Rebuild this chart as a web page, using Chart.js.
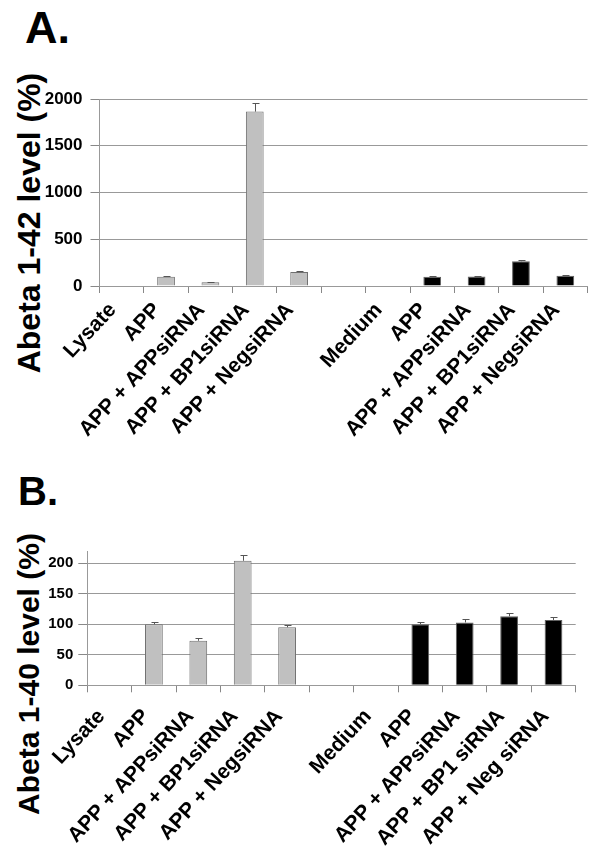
<!DOCTYPE html>
<html>
<head>
<meta charset="utf-8">
<script src="https://cdn.jsdelivr.net/npm/chart.js@4.4.1/dist/chart.umd.min.js"></script>
<style>
  body { margin: 0; background: #fff; }
  #page { position: relative; width: 600px; height: 850px; overflow: hidden; font-family: "Liberation Sans", Arial, sans-serif; }
  canvas { position: absolute; left: 0; }
  .panel { position: absolute; font-weight: bold; line-height: 1; color: #000; }
  .ytitle { position: absolute; width: 400px; text-align: center; font-weight: bold; line-height: 1; color: #000; transform: rotate(-90deg); white-space: nowrap; }
</style>
</head>
<body>
<div id="page">
  <div class="panel" style="left:25px; top:5px; font-size:45px;">A.</div>
  <div class="ytitle" style="left:-171px; top:207px; font-size:32px;">Abeta 1-42 level (%)</div>
  <canvas id="chartA" width="600" height="450" style="top:0"></canvas>

  <div class="panel" style="left:18px; top:471px; font-size:40px;">B.</div>
  <div class="ytitle" style="left:-171px; top:659px; font-size:30px;">Abeta 1-40 level (%)</div>
  <canvas id="chartB" width="600" height="400" style="top:450px"></canvas>
</div>
<script>
// panel A: Abeta 1-42
var categoriesA = ["Lysate", "APP", "APP + APPsiRNA", "APP + BP1siRNA", "APP + NegsiRNA", "",
                   "Medium", "APP", "APP + APPsiRNA", "APP + BP1siRNA", "APP + NegsiRNA"]
var valuesA = [null, 100, 40, 1865, 150, null, null, 100, 102, 265, 110]
var errorsA = [null, 5, 4, 90, 12, null, null, 4, 5, 10, 8]
var ticksA = [0, 500, 1000, 1500, 2000]

// panel B: Abeta 1-40
var categoriesB = ["Lysate", "APP", "APP + APPsiRNA", "APP + BP1siRNA", "APP + NegsiRNA", "",
                   "Medium", "APP", "APP + APPsiRNA", "APP + BP1 siRNA", "APP + Neg siRNA"]
var valuesB = [null, 100, 73, 204, 95, null, null, 100, 103, 113, 107]
var errorsB = [null, 4, 4, 9, 4, null, null, 4, 5, 5, 5]
var ticksB = [0, 50, 100, 150, 200]

Chart.defaults.font.family = "'Liberation Sans', Arial, sans-serif"
Chart.defaults.color = "#000"

var errorBars = {
  id: "errorBars",
  afterDatasetsDraw: function(chart, args, opts) {
    var ctx = chart.ctx
    var x = chart.scales.x
    var y = chart.scales.y
    var data = chart.data.datasets[0].data
    ctx.save()
    ctx.strokeStyle = "#555"
    ctx.lineWidth = 1
    data.forEach(function(v, i) {
      if (v == null || opts.errors[i] == null) return
      var px = Math.round(x.getPixelForValue(i)) + 0.5
      var top = y.getPixelForValue(v)
      var end = Math.round(y.getPixelForValue(v + opts.errors[i])) + 0.5
      ctx.beginPath()
      ctx.moveTo(px, top)
      ctx.lineTo(px, end)
      ctx.moveTo(px - 3, end)
      ctx.lineTo(px + 4, end)
      ctx.stroke()
    })
    ctx.restore()
  }
}

function barColour(i) { return i < 5 ? "#c0c0c0" : "#000000" }
function barBorder(i) { return i < 5 ? "#707070" : "#606060" }

function makeChart(id, labels, values, errors, tickValues, cfg) {
  return new Chart(document.getElementById(id), {
    type: "bar",
    data: {
      labels: labels,
      datasets: [{
        data: values,
        backgroundColor: labels.map(function(l, i) { return barColour(i) }),
        borderColor: labels.map(function(l, i) { return barBorder(i) }),
        borderWidth: 1,
        barPercentage: 0.4,
        categoryPercentage: 1
      }]
    },
    options: {
      responsive: false,
      animation: false,
      events: [],
      layout: { padding: { left: 0, right: cfg.padRight, top: cfg.padTop, bottom: 0 } },
      scales: {
        x: {
          afterFit: function(s) { s.height = cfg.xHeight },
          grid: { offset: true, drawOnChartArea: false, tickLength: 7, color: "#888" },
          border: { color: "#999" },
          ticks: {
            autoSkip: false, minRotation: 47, maxRotation: 47,
            padding: cfg.xPad, labelOffset: cfg.xShift,
            font: { size: 21, weight: "bold" }
          }
        },
        y: {
          min: 0,
          max: cfg.max,
          afterFit: function(s) { s.width = cfg.yWidth },
          afterBuildTicks: function(s) {
            s.ticks = tickValues.map(function(v) { return { value: v } })
          },
          grid: { color: "#999", borderDash: [1, 2], tickBorderDash: [], tickLength: 9, tickColor: "#888" },
          border: { color: "#999" },
          ticks: {
            padding: cfg.yPad,
            font: { size: cfg.yFont, weight: "bold" },
            callback: function(v) { return String(v) }
          }
        }
      },
      plugins: {
        legend: { display: false },
        tooltip: { enabled: false },
        errorBars: { errors: errors }
      }
    },
    plugins: [errorBars]
  })
}

makeChart("chartA", categoriesA, valuesA, errorsA, ticksA,
  { max: 2000, padTop: 99, padRight: 12.5, yWidth: 99.5, xHeight: 164, yPad: 8, yFont: 17, xPad: 5, xShift: -9 })
makeChart("chartB", categoriesB, valuesB, errorsB, ticksB,
  { max: 220, padTop: 101, padRight: 24.3, yWidth: 87.3, xHeight: 164.7, yPad: 5, yFont: 15, xPad: 12, xShift: -8 })
</script>
</body>
</html>
